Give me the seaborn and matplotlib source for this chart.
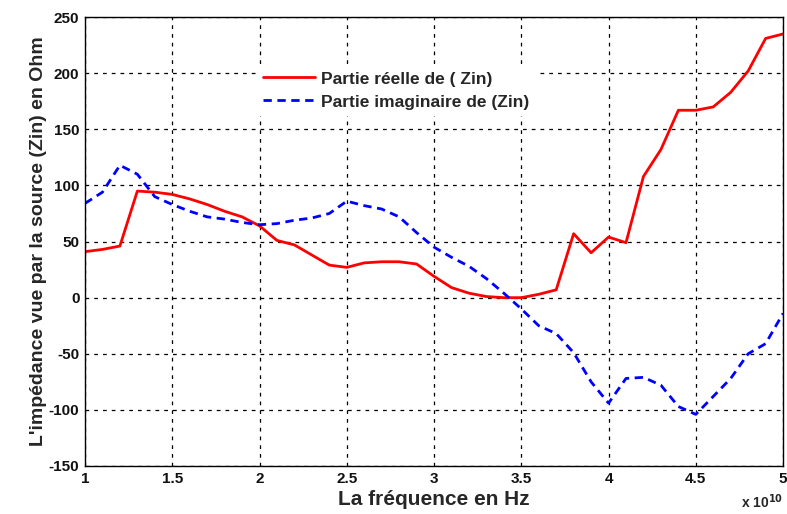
import numpy as np
import pandas as pd
import seaborn as sns
import matplotlib
matplotlib.use("Agg")
import matplotlib.pyplot as plt

freq = [1.0, 1.1, 1.2, 1.3, 1.4, 1.5, 1.6, 1.7, 1.8, 1.9, 2.0, 2.1, 2.2, 2.3, 2.4, 2.5,
        2.6, 2.7, 2.8, 2.9, 3.0, 3.1, 3.2, 3.3, 3.4, 3.5, 3.6, 3.7, 3.8, 3.9, 4.0, 4.1,
        4.2, 4.3, 4.4, 4.5, 4.6, 4.7, 4.8, 4.9, 5.0]
reel = [41, 43, 46, 95, 94, 92, 88, 83, 77, 72, 64, 51, 47, 38, 29, 27,
        31, 32, 32, 30, 19, 9, 4, 1, 0, 0, 3, 7, 57, 40, 54, 49,
        108, 132, 167, 167, 170, 183, 202, 231, 235]
imag = [84, 94, 118, 110, 90, 83, 77, 72, 70, 67, 65, 66, 69, 71, 75, 86,
        82, 79, 72, 58, 45, 36, 28, 17, 4, -10, -25, -32, -49, -75, -94, -72,
        -71, -78, -97, -104, -88, -72, -50, -41, -14]
labels = ["Partie réelle de ( Zin)", "Partie imaginaire de (Zin)"]
xticks = [1, 1.5, 2, 2.5, 3, 3.5, 4, 4.5, 5]
xticklabels = ["1", "1.5", "2", "2.5", "3", "3.5", "4", "4.5", "5"]
yticks = [-150, -100, -50, 0, 50, 100, 150, 200, 250]

df = pd.DataFrame({
    "f": freq * 2,
    "Z": reel + imag,
    "serie": [labels[0]] * len(freq) + [labels[1]] * len(freq),
})

sns.set_style("white")
plt.rcParams["font.family"] = ["Liberation Sans", "DejaVu Sans"]
plt.rcParams["font.weight"] = "bold"
plt.rcParams["axes.unicode_minus"] = False

fig = plt.figure(figsize=(7.87, 5.14), dpi=100)
ax = fig.add_axes([0.108, 0.0934, 0.887, 0.8733])

sns.lineplot(data=df, x="f", y="Z", hue="serie", style="serie",
             palette={labels[0]: "#ff0000", labels[1]: "#0000ff"},
             dashes={labels[0]: "", labels[1]: (3, 2)},
             linewidth=2, ax=ax, legend=True)

ax.set_xlim(1, 5)
ax.set_ylim(-150, 250)
ax.set_xticks(xticks)
ax.set_xticklabels(xticklabels)
ax.set_yticks(yticks)
ax.set_yticklabels([str(v) for v in yticks])
ax.tick_params(direction="in", length=4, labelsize=11, colors="black", pad=4)
for lab in ax.get_xticklabels() + ax.get_yticklabels():
    lab.set_fontweight("bold")
    lab.set_color("#111111")
ax.grid(True, color="black", linestyle=(0, (3, 4)), linewidth=0.9)
for s in ax.spines.values():
    s.set_color("black")
    s.set_linewidth(1.0)

ax.set_xlabel("La fréquence en Hz", fontsize=15, fontweight="bold", labelpad=3)
ax.set_ylabel("L'impédance vue par la source (Zin) en Ohm", fontsize=14,
              fontweight="bold", labelpad=1)
fig.text(783 / 787, 6 / 514, r"x 10$^{10}$", ha="right", va="baseline",
         fontsize=10, fontweight="bold")

leg = ax.legend(loc="upper left", bbox_to_anchor=(0.235, 0.91), frameon=True,
                fontsize=12.5, handlelength=3.0, borderpad=0.3, labelspacing=0.45,
                handletextpad=0.35)
leg.get_frame().set_edgecolor("white")
leg.get_frame().set_facecolor("white")
leg.get_frame().set_alpha(1)
leg.get_frame().set_boxstyle("square", pad=0)
for t in leg.get_texts():
    t.set_fontweight("bold")

fig.savefig("out.png", dpi=100)
